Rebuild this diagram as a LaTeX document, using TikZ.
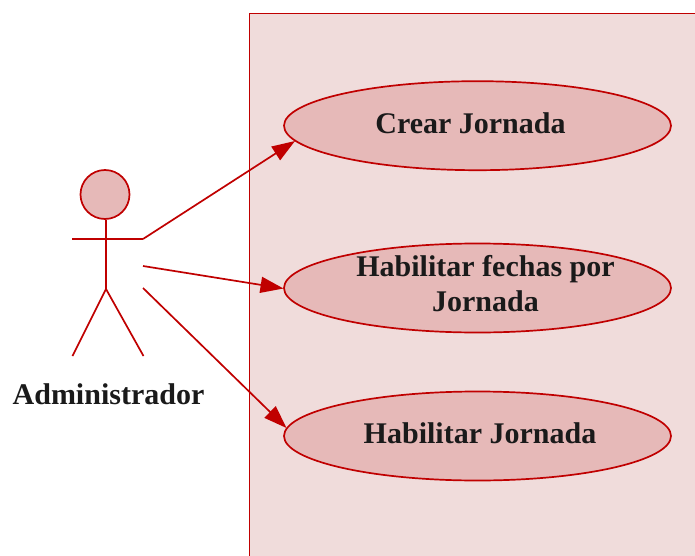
\documentclass[tikz,border=0pt]{standalone}
\usepackage{fontspec}
\setmainfont{Liberation Serif}
\usetikzlibrary{arrows.meta,shapes.geometric}
\definecolor{rd}{HTML}{C00000}
\definecolor{bgp}{HTML}{F0DCDB}
\definecolor{ell}{HTML}{E6B9B8}
\definecolor{tx}{HTML}{1A1A1A}
\tikzset{x=1pt,y=-1pt,
 line/.style={draw=rd,line width=1.7pt},
 uc/.style={ellipse,draw=rd,fill=ell,line width=1.7pt,minimum width=387pt,minimum height=89pt,inner sep=0pt},
 lab/.style={font=\fontsize{30}{35}\selectfont\bfseries,text=tx,align=center,inner sep=0pt},
 conn/.style={line,-{Triangle[length=23pt,width=16pt]}}}
\begin{document}
\begin{tikzpicture}
\useasboundingbox (0,0) rectangle (695,556);
\fill[white] (0,0) rectangle (695,556);
\fill[bgp] (249.5,556) rectangle (695,13.5);
\fill[rd] (248.6,556) rectangle (250.4,12.6);
\fill[rd] (248.6,12.6) rectangle (695,14.4);
\node[uc] (a) at (477.5,125.7) {};
\node[uc] (b) at (477.5,288) {};
\node[uc] (c) at (477.5,436) {};
\node[lab] at (470.5,123) {Crear Jornada};
\node[lab] at (485.5,284) {Habilitar fechas por\\Jornada};
\node[lab] at (480,433) {Habilitar Jornada};
\node[circle,draw=rd,fill=ell,line width=1.7pt,minimum size=49pt,inner sep=0pt] (head) at (105,194.5) {};
\coordinate (hip) at (106,289);
\coordinate (armL) at (72,239);
\coordinate (armR) at (143,239);
\coordinate (legL) at (72.5,356);
\coordinate (legR) at (143.5,356);
\coordinate (s2) at (143,266);
\coordinate (s3) at (143,288);
\coordinate (t1) at (295,141);
\coordinate (t2) at (283.5,288.5);
\coordinate (t3) at (286.5,428);
\draw[line] (head.south -| hip) -- (hip);
\draw[line] (armL) -- (armR);
\draw[line] (legL) -- (hip) -- (legR);
\node[lab] (actor) at (108.5,394) {Administrador};
\draw[conn] (armR) -- (t1);
\draw[conn] (s2) -- (t2);
\draw[conn] (s3) -- (t3);
\end{tikzpicture}
\end{document}
